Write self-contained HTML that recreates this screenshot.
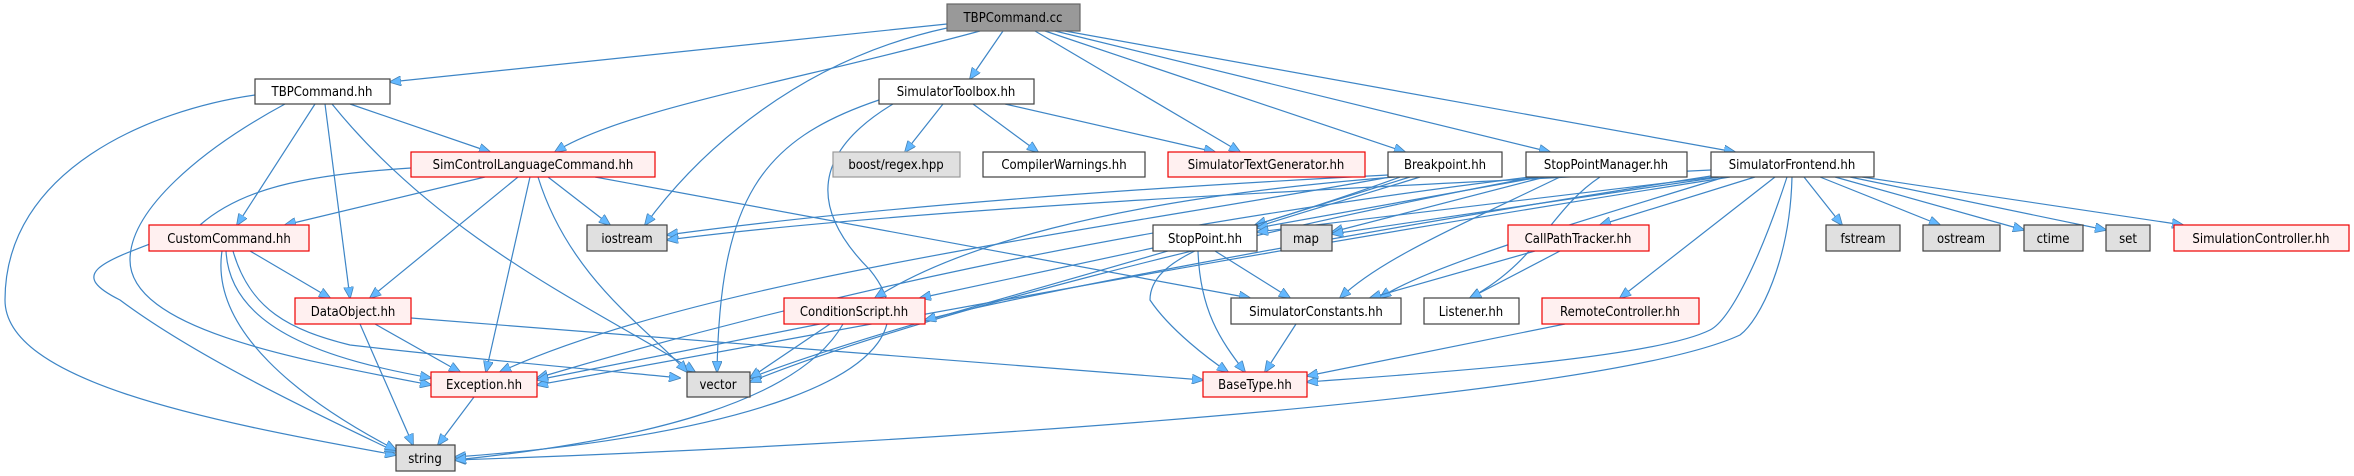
<!DOCTYPE html>
<html><head><meta charset="utf-8"><style>
html,body{margin:0;padding:0;background:#fff;}
svg{display:block}
text{font-family:"DejaVu Sans Condensed","DejaVu Sans","Liberation Sans",sans-serif;font-size:13px;fill:#000;text-anchor:middle;}
.e{fill:none;stroke:#3d85c6;stroke-width:1.2;marker-end:url(#a)}
</style></head><body>
<svg width="2354" height="476" viewBox="0 0 2354 476" xmlns="http://www.w3.org/2000/svg">
<defs><marker id="a" markerWidth="12" markerHeight="10" refX="11" refY="5" orient="auto" markerUnits="userSpaceOnUse"><path d="M0,0 L12,5 L0,10 z" fill="#63b8ff" stroke="#4682b4" stroke-width="0.8"/></marker></defs>
<g>
<path class="e" d="M947,24 L390,82"/>
<path class="e" d="M980,31 C800,80 620,110 555,152"/>
<path class="e" d="M947,28 C800,60 700,150 645,225"/>
<path class="e" d="M1003,31 L970,79"/>
<path class="e" d="M1035,31 L1240,152"/>
<path class="e" d="M1045,31 L1405,152"/>
<path class="e" d="M1055,31 L1550,152"/>
<path class="e" d="M1065,31 L1735,152"/>
<path class="e" d="M255,95 C150,110 5,170 5,300 C5,380 200,420 396,455"/>
<path class="e" d="M285,104 C200,150 130,210 130,260 C130,330 300,360 431,385"/>
<path class="e" d="M315,104 L237,225"/>
<path class="e" d="M325,104 L350,298"/>
<path class="e" d="M332,104 C450,250 620,320 695,372"/>
<path class="e" d="M350,104 L490,152"/>
<path class="e" d="M411,168 C300,175 240,190 200,225 C110,260 60,270 120,300 C200,360 330,420 396,452"/>
<path class="e" d="M485,177 L285,225"/>
<path class="e" d="M518,177 L370,298"/>
<path class="e" d="M530,177 L486,372"/>
<path class="e" d="M548,177 L610,225"/>
<path class="e" d="M538,177 C570,280 650,330 687,372"/>
<path class="e" d="M595,177 L1250,298"/>
<path class="e" d="M250,251 L330,298"/>
<path class="e" d="M222,251 C210,330 300,400 396,450"/>
<path class="e" d="M226,251 C230,330 330,360 431,378"/>
<path class="e" d="M233,251 C250,310 290,330 350,345 C480,360 600,370 680,378"/>
<path class="e" d="M375,324 L460,372"/>
<path class="e" d="M360,324 L413,445"/>
<path class="e" d="M411,318 L1203,380"/>
<path class="e" d="M474,397 L438,445"/>
<path class="e" d="M943,104 L905,152"/>
<path class="e" d="M973,104 L1038,152"/>
<path class="e" d="M1005,104 L1215,152"/>
<path class="e" d="M879,100 C760,140 720,200 717,372"/>
<path class="e" d="M893,104 C800,160 820,220 870,270 C960,380 700,440 455,457"/>
<path class="e" d="M1410,177 L1255,225"/>
<path class="e" d="M1395,177 C1100,200 950,250 875,298"/>
<path class="e" d="M1388,175 C1100,190 850,210 667,235"/>
<path class="e" d="M1390,177 C1100,230 700,280 500,372"/>
<path class="e" d="M1420,177 C1250,230 1150,250 1150,300 C1170,330 1210,360 1228,372"/>
<path class="e" d="M1400,177 C1200,250 900,320 750,378"/>
<path class="e" d="M1540,177 L1257,228"/>
<path class="e" d="M1545,177 L1332,232"/>
<path class="e" d="M1560,177 C1450,230 1380,260 1340,298"/>
<path class="e" d="M1600,177 C1550,210 1540,260 1470,298"/>
<path class="e" d="M1530,177 C1100,230 800,300 537,378"/>
<path class="e" d="M1535,177 C1250,230 900,320 750,382"/>
<path class="e" d="M1711,170 C1300,190 900,210 667,240"/>
<path class="e" d="M1715,177 L1257,232"/>
<path class="e" d="M1720,177 L1332,234"/>
<path class="e" d="M1755,177 L1600,225"/>
<path class="e" d="M1725,177 C1550,230 1420,270 1380,298"/>
<path class="e" d="M1775,177 L1620,298"/>
<path class="e" d="M1804,177 L1842,225"/>
<path class="e" d="M1820,177 L1940,225"/>
<path class="e" d="M1835,177 L2024,230"/>
<path class="e" d="M1850,177 L2106,230"/>
<path class="e" d="M1862,177 L2183,225"/>
<path class="e" d="M1787,177 C1760,260 1730,320 1710,330 C1650,360 1400,375 1307,382"/>
<path class="e" d="M1792,177 C1790,260 1760,320 1740,335 C1600,400 900,445 455,460"/>
<path class="e" d="M1711,176 C1300,240 1000,300 925,320"/>
<path class="e" d="M1730,177 C1200,260 900,320 537,385"/>
<path class="e" d="M1153,248 L920,298"/>
<path class="e" d="M1215,251 L1290,298"/>
<path class="e" d="M1198,251 C1200,310 1220,340 1245,372"/>
<path class="e" d="M820,324 L537,380"/>
<path class="e" d="M830,324 L750,378"/>
<path class="e" d="M843,324 C800,400 650,440 455,460"/>
<path class="e" d="M1296,324 L1265,372"/>
<path class="e" d="M1535,251 L1370,298"/>
<path class="e" d="M1560,251 L1470,298"/>
<path class="e" d="M1565,324 L1307,376"/>
</g>
<g stroke-width="1.2">
<rect x="947" y="4" width="133" height="27" fill="#999" stroke="#666"/><text x="1013" y="22">TBPCommand.cc</text>
<rect x="255" y="79" width="135" height="25" fill="#fff" stroke="#404040"/><text x="322" y="96">TBPCommand.hh</text>
<rect x="879" y="79" width="155" height="25" fill="#fff" stroke="#404040"/><text x="956" y="96">SimulatorToolbox.hh</text>
<rect x="411" y="152" width="244" height="25" fill="#fff0f0" stroke="#e00"/><text x="533" y="169">SimControlLanguageCommand.hh</text>
<rect x="833" y="152" width="127" height="25" fill="#e0e0e0" stroke="#999"/><text x="896" y="169">boost/regex.hpp</text>
<rect x="983" y="152" width="162" height="25" fill="#fff" stroke="#404040"/><text x="1064" y="169">CompilerWarnings.hh</text>
<rect x="1168" y="152" width="197" height="25" fill="#fff0f0" stroke="#e00"/><text x="1266" y="169">SimulatorTextGenerator.hh</text>
<rect x="1388" y="152" width="114" height="25" fill="#fff" stroke="#404040"/><text x="1445" y="169">Breakpoint.hh</text>
<rect x="1526" y="152" width="161" height="25" fill="#fff" stroke="#404040"/><text x="1606" y="169">StopPointManager.hh</text>
<rect x="1711" y="152" width="163" height="25" fill="#fff" stroke="#404040"/><text x="1792" y="169">SimulatorFrontend.hh</text>
<rect x="149" y="225" width="160" height="26" fill="#fff0f0" stroke="#e00"/><text x="229" y="243">CustomCommand.hh</text>
<rect x="587" y="225" width="80" height="26" fill="#e0e0e0" stroke="#404040"/><text x="627" y="243">iostream</text>
<rect x="1153" y="225" width="104" height="26" fill="#fff" stroke="#404040"/><text x="1205" y="243">StopPoint.hh</text>
<rect x="1281" y="225" width="51" height="26" fill="#e0e0e0" stroke="#404040"/><text x="1306" y="243">map</text>
<rect x="1508" y="225" width="141" height="26" fill="#fff0f0" stroke="#e00"/><text x="1578" y="243">CallPathTracker.hh</text>
<rect x="1826" y="225" width="74" height="26" fill="#e0e0e0" stroke="#404040"/><text x="1863" y="243">fstream</text>
<rect x="1923" y="225" width="77" height="26" fill="#e0e0e0" stroke="#404040"/><text x="1961" y="243">ostream</text>
<rect x="2024" y="225" width="59" height="26" fill="#e0e0e0" stroke="#404040"/><text x="2053" y="243">ctime</text>
<rect x="2106" y="225" width="44" height="26" fill="#e0e0e0" stroke="#404040"/><text x="2128" y="243">set</text>
<rect x="2174" y="225" width="175" height="26" fill="#fff0f0" stroke="#e00"/><text x="2261" y="243">SimulationController.hh</text>
<rect x="295" y="298" width="116" height="26" fill="#fff0f0" stroke="#e00"/><text x="353" y="316">DataObject.hh</text>
<rect x="784" y="298" width="141" height="26" fill="#fff0f0" stroke="#e00"/><text x="854" y="316">ConditionScript.hh</text>
<rect x="1231" y="298" width="170" height="26" fill="#fff" stroke="#404040"/><text x="1316" y="316">SimulatorConstants.hh</text>
<rect x="1424" y="298" width="95" height="26" fill="#fff" stroke="#404040"/><text x="1471" y="316">Listener.hh</text>
<rect x="1542" y="298" width="157" height="26" fill="#fff0f0" stroke="#e00"/><text x="1620" y="316">RemoteController.hh</text>
<rect x="431" y="372" width="106" height="25" fill="#fff0f0" stroke="#e00"/><text x="484" y="389">Exception.hh</text>
<rect x="687" y="372" width="63" height="25" fill="#e0e0e0" stroke="#404040"/><text x="718" y="389">vector</text>
<rect x="1203" y="372" width="104" height="25" fill="#fff0f0" stroke="#e00"/><text x="1255" y="389">BaseType.hh</text>
<rect x="396" y="445" width="59" height="26" fill="#e0e0e0" stroke="#404040"/><text x="425" y="463">string</text>
</g>
</svg>
</body></html>
